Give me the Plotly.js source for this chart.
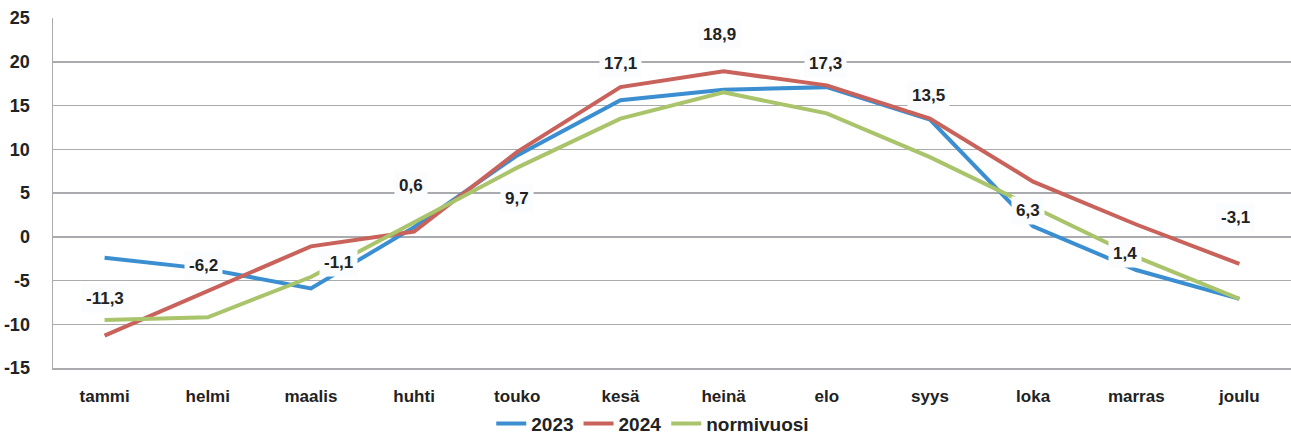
<!DOCTYPE html>
<html><head><meta charset="utf-8">
<script src="https://cdn.plot.ly/plotly-3.0.1.min.js"></script>
<style>html,body{margin:0;padding:0;background:#fff;}#chart{width:1291px;height:439px;}</style>
</head><body><div id="chart"></div>
<script>
const months = ["tammi","helmi","maalis","huhti","touko","kesä","heinä","elo","syys","loka","marras","joulu"];
const y2023 = [-2.4,-3.7,-5.9,1.1,9.3,15.6,16.8,17.1,13.4,1.2,-3.8,-7.1];
const y2024 = [-11.3,-6.2,-1.1,0.6,9.7,17.1,18.9,17.3,13.5,6.3,1.4,-3.1];
const yNormi = [-9.5,-9.2,-4.6,1.7,7.9,13.5,16.5,14.1,9.1,3.4,-2.3,-7.1];
const seriesNames = ["2023","2024","normivuosi"];
const yTicks = [-15,-10,-5,0,5,10,15,20,25];

// label offsets (pixels) for 2024 value labels
const labelShift = [[0,37],[-4,26],[28,-16],[-3,46],[0,-47],[0,24],[-4,37],[-1,22],[-1,23],[-5,-29],[-11,-29],[-4,46]];

const colors = ["#3b8fd0","#c8625b","#a9c46a"];
const font = "Liberation Sans, Arial, sans-serif";
const grid = "#a9abae";

const traces = [y2023,y2024,yNormi].map((ys,i)=>({
  type:"scatter", mode:"lines", x:months, y:ys, name:seriesNames[i],
  line:{color:colors[i], width:4}, xaxis:"x", yaxis:"y"
}));

const yMin = yTicks[0], yMax = yTicks[yTicks.length-1];
const annotations = y2024.map((v,i)=>({
  x:months[i], y:v, xref:"x", yref:"y",
  text:v.toFixed(1).replace(".",","), showarrow:false,
  xshift:labelShift[i][0], yshift:labelShift[i][1],
  font:{family:font, size:17, color:"#222", weight:700},
  bgcolor:"#fbfcfd", borderpad:4
}));

const boundaries = months.slice(1).map((m,i)=>i+0.5);

const layout = {
  width:1291, height:439,
  margin:{l:53, r:0, t:18, b:71, autoexpand:false},
  paper_bgcolor:"#fff", plot_bgcolor:"#fff",
  showlegend:true,
  legend:{orientation:"h", x:0.354, xanchor:"left", y:-0.105, yanchor:"top",
    font:{family:font, size:19, color:"#222", weight:700}, itemwidth:30, tracegroupgap:0},
  xaxis:{type:"category", categoryarray:months, range:[-0.5,11.5], showgrid:false, zeroline:false,
    showline:true, linecolor:grid, linewidth:1.5, ticks:"", ticklabelstandoff:12,
    tickfont:{family:font, size:17, color:"#222", weight:700}, fixedrange:true},
  xaxis2:{overlaying:"x", anchor:"free", position:(0-yMin)/(yMax-yMin), type:"linear",
    range:[-0.5,11.5], tickmode:"array", tickvals:boundaries, ticks:"outside", ticklen:7,
    tickcolor:grid, tickwidth:1.5, showticklabels:false, showgrid:false, zeroline:false, showline:false},
  yaxis:{range:[yMin,yMax], tickmode:"array", tickvals:yTicks, ticktext:yTicks.map(String),
    showgrid:true, gridcolor:grid, gridwidth:1.5,
    zeroline:true, zerolinecolor:grid, zerolinewidth:1.5, showline:true, linecolor:grid, linewidth:1.5,
    ticks:"", ticklabelstandoff:18, tickfont:{family:font, size:18, color:"#222", weight:700}},
  annotations:annotations
};
Plotly.newPlot("chart", traces, layout, {staticPlot:true, displayModeBar:false});
</script></body></html>
